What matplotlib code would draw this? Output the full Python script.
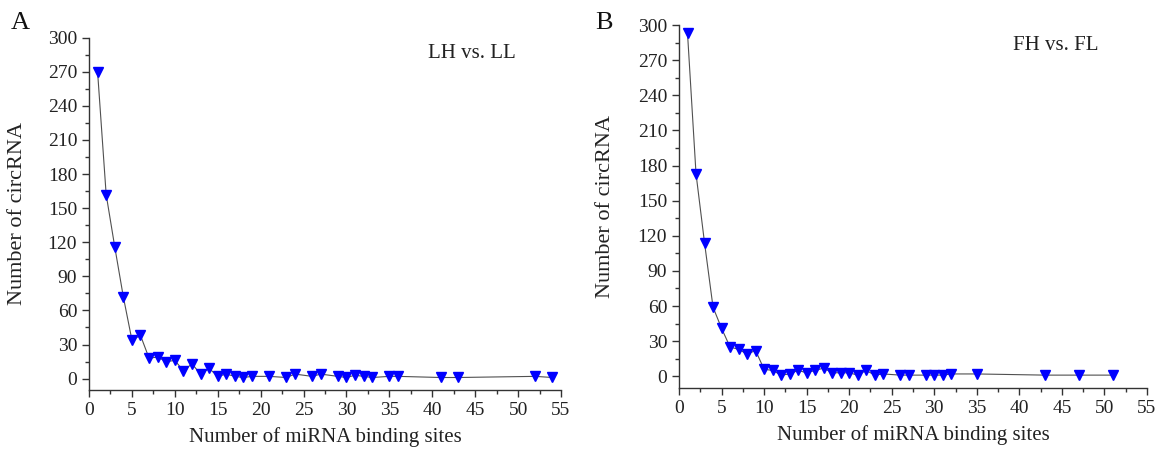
import matplotlib.pyplot as plt
from matplotlib.ticker import MultipleLocator

plt.rcParams['font.family'] = ['Liberation Serif', 'DejaVu Serif']

# panel A: LH vs. LL
sites_a = [1, 2, 3, 4, 5, 6, 7, 8, 9, 10, 11, 12, 13, 14, 15, 16, 17, 18, 19,
           21, 23, 24, 26, 27, 29, 30, 31, 32, 33, 35, 36, 41, 43, 52, 54]
count_a = [270, 162, 116, 72, 34, 38, 18, 19, 15, 16, 7, 13, 4, 9, 2, 4, 2, 1, 2,
           2, 1, 4, 2, 4, 2, 1, 3, 2, 1, 2, 2, 1, 1, 2, 1]

# panel B: FH vs. FL
sites_b = [1, 2, 3, 4, 5, 6, 7, 8, 9, 10, 11, 12, 13, 14, 15, 16, 17, 18, 19, 20,
           21, 22, 23, 24, 26, 27, 29, 30, 31, 32, 35, 43, 47, 51]
count_b = [293, 173, 114, 59, 41, 25, 23, 19, 22, 6, 5, 1, 2, 5, 3, 5, 7, 3, 3, 3,
           1, 5, 1, 2, 1, 1, 1, 1, 1, 2, 2, 1, 1, 1]

fig = plt.figure(figsize=(11.61, 4.5), dpi=100)
W, H = 1161, 450

def panel(rect, x, y, letter, tag, letter_xy, tag_xy, ylab_x):
    l, t, r, b = rect
    ax = fig.add_axes([l / W, 1 - b / H, (r - l) / W, (b - t) / H])
    ax.plot(x, y, color='#505050', lw=0.8, marker='v', ms=7,
            mfc='#0000ff', mec='#0000ff')
    ax.set_xlim(0, 55)
    ax.set_ylim(-10, 300)
    ax.xaxis.set_major_locator(MultipleLocator(5))
    ax.xaxis.set_minor_locator(MultipleLocator(2.5))
    ax.yaxis.set_major_locator(MultipleLocator(30))
    ax.yaxis.set_minor_locator(MultipleLocator(15))
    ax.spines['top'].set_visible(False)
    ax.spines['right'].set_visible(False)
    for s in ('left', 'bottom'):
        ax.spines[s].set_linewidth(1.0)
        ax.spines[s].set_color('#333333')
    ax.tick_params(which='major', length=5, width=1, labelsize=14,
                   colors='#333333', labelcolor='#222222')
    ax.tick_params(which='minor', length=3, width=1, colors='#333333')
    ax.set_xlabel('Number of miRNA binding sites', fontsize=15, labelpad=6,
                  color='#222222')
    ax.set_ylabel('Number of circRNA', fontsize=16, color='#222222')
    ax.yaxis.set_label_coords((ylab_x - l) / (r - l), 0.5)
    fig.text(letter_xy[0] / W, 1 - letter_xy[1] / H, letter, fontsize=19,
             ha='center', va='center', color='#111111')
    fig.text(tag_xy[0] / W, 1 - tag_xy[1] / H, tag, fontsize=15,
             ha='center', va='center', color='#222222')
    return ax

panel((89, 37.7, 561, 390), sites_a, count_a, 'A', 'LH vs. LL',
      (20, 23), (472, 54), 27)
panel((679, 25, 1147, 388), sites_b, count_b, 'B', 'FH vs. FL',
      (604, 23), (1056, 45), 615)

fig.savefig('out.png', dpi=100)
